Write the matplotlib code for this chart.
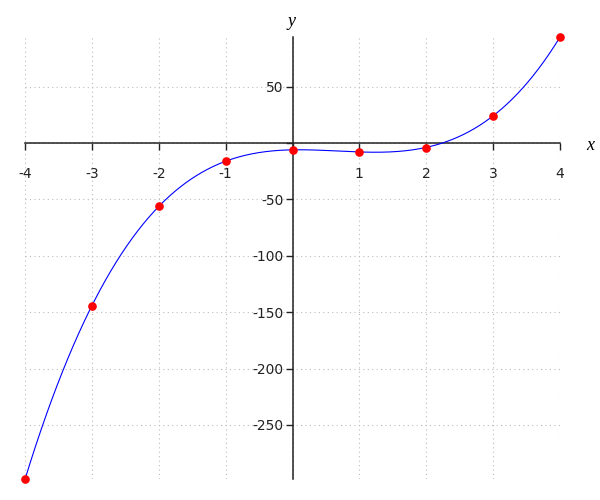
import numpy as np
import matplotlib
matplotlib.use("Agg")
import matplotlib.pyplot as plt

# points
x_pts = [-4, -3, -2, -1, 0, 1, 2, 3, 4]
y_pts = [-298, -145, -56, -16, -6, -8, -4, 24, 94]
x_ticks = [-4, -3, -2, -1, 0, 1, 2, 3, 4]
y_ticks = [50, 0, -50, -100, -150, -200, -250]

plt.rcParams['axes.unicode_minus'] = False

fig = plt.figure(figsize=(6, 5), dpi=100)
ax = fig.add_axes([25 / 600, 1 - 479 / 500, 535 / 600, 442 / 500])

# smooth curve through the points (cubic fit)
coef = np.polyfit(x_pts, y_pts, 3)
xs = np.linspace(min(x_pts), max(x_pts), 400)
ax.plot(xs, np.polyval(coef, xs), color="blue", lw=0.8, clip_on=False, zorder=3)
ax.plot(x_pts, y_pts, "o", color="red", ms=5.2, clip_on=False, zorder=4)

ax.set_xlim(min(x_pts), max(x_pts))
ax.set_ylim(min(y_pts), max(y_pts))

for sp in ["top", "right"]:
    ax.spines[sp].set_visible(False)
ax.spines["left"].set_position(("data", 0))
ax.spines["bottom"].set_position(("data", 0))
for sp in ["left", "bottom"]:
    ax.spines[sp].set_linewidth(1.1)
    ax.spines[sp].set_color("#222222")
    ax.spines[sp].set_zorder(2.5)

ax.set_xticks(x_ticks)
ax.set_xticklabels(["" if t == 0 else str(t) for t in x_ticks])
ax.set_yticks(y_ticks)
ax.set_yticklabels(["" if t == 0 else str(t) for t in y_ticks])
ax.tick_params(axis="x", direction="out", length=5, width=1, pad=12,
               labelsize=10, colors="#222222")
ax.tick_params(axis="y", direction="out", length=5, width=1, pad=1.5,
               labelsize=10, colors="#222222")
ax.grid(color="#bbbbbb", linestyle=(0, (1, 3)), linewidth=0.8)

ax.text(590 / 600, 1 - 146 / 500, "x", transform=fig.transFigure, fontsize=13,
        family="Liberation Serif", style="italic", ha="center", va="center")
ax.text(292 / 600, 1 - 21 / 500, "y", transform=fig.transFigure, fontsize=13,
        family="Liberation Serif", style="italic", ha="center", va="center")

fig.savefig("out.png", dpi=100)
